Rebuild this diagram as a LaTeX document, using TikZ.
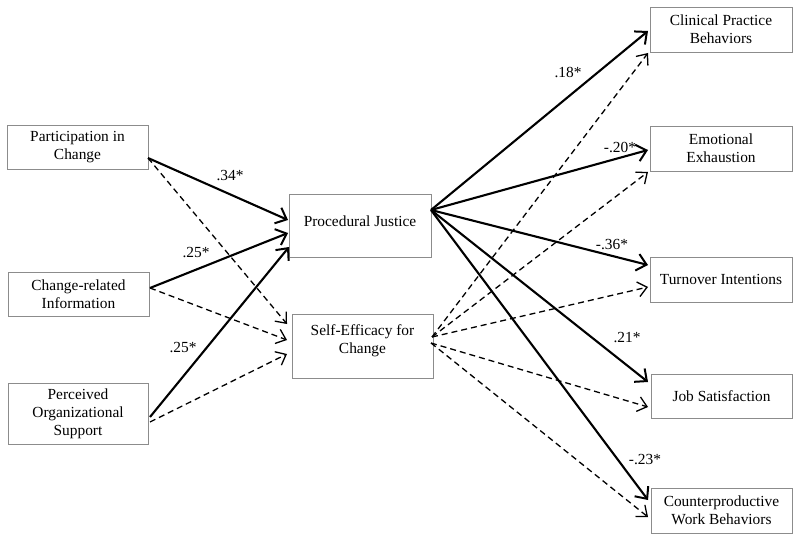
\documentclass[tikz,border=0pt]{standalone}
\usepackage{fontspec}
\setmainfont{Liberation Serif}
\usetikzlibrary{arrows.meta}
\begin{document}
\begin{tikzpicture}[x=1pt,y=-1pt,
  box/.style={draw=black!45,line width=0.9pt,minimum width=141pt,inner sep=0pt,fill=white},
  txt/.style={font=\fontsize{15.4}{18}\selectfont,align=center,inner sep=0pt},
  lab/.style={font=\fontsize{15.4}{18}\selectfont,inner sep=0pt},
  sig/.style={line width=2.1pt,-{Straight Barb[length=9.5pt,width=17pt,line width=2pt]}},
  ns/.style={line width=1.3pt,dash pattern=on 6pt off 4pt,-{Straight Barb[length=9pt,width=15pt,line width=1.3pt]}}]
\useasboundingbox (0,0) rectangle (800,540);
\fill[white] (0,0) rectangle (800,540);
% left boxes
\node[box,minimum height=44pt] (pc) at (77.5,147) {};
\node[txt] (pct) at (77.5,147) {Participation in\\Change};
\node[box,minimum height=44pt] (cri) at (78.5,294) {};
\node[txt] (crit) at (78.5,294) {Change-related\\Information};
\node[box,minimum height=61pt,minimum width=140pt] (pos) at (78,413.5) {};
\node[txt] (post) at (78,414) {Perceived\\Organizational\\Support};
% middle
\node[box,minimum height=63pt,minimum width=142pt] (pj) at (360,225.5) {};
\node[txt] (pjt) at (360,221) {Procedural Justice};
\node[box,minimum height=64pt] (se) at (362.5,346) {};
\node[txt] (set) at (362.5,341) {Self-Efficacy for\\Change};
% right
\node[box,minimum height=45pt,minimum width=142pt] (cpb) at (721,29.5) {};
\node[txt] (cpbt) at (721,29.5) {Clinical Practice\\Behaviors};
\node[box,minimum height=45pt,minimum width=142pt] (ee) at (721,148.5) {};
\node[txt] (eet) at (721,148.5) {Emotional\\Exhaustion};
\node[box,minimum height=45pt,minimum width=142pt] (ti) at (721,279.5) {};
\node[txt] (tit) at (721,279.5) {Turnover Intentions};
\node[box,minimum height=44pt] (js) at (721.5,396) {};
\node[txt] (jst) at (721.5,396) {Job Satisfaction};
\node[box,minimum height=45pt] (cwb) at (721.5,510.5) {};
\node[txt] (cwbt) at (721.5,510.5) {Counterproductive\\Work Behaviors};
% connection points
\coordinate (pcO) at (148,158);
\coordinate (criO) at (150,288);
\coordinate (posO) at (150,417);
\coordinate (posD) at (150,422);
\coordinate (pjI1) at (288,220);
\coordinate (pjI2) at (288,233);
\coordinate (pjI3) at (289,247);
\coordinate (seI1) at (287,324);
\coordinate (seI2) at (287,340);
\coordinate (seI3) at (287,354);
\coordinate (pjO) at (431,210);
\coordinate (seU) at (432,337);
\coordinate (seD) at (431,343);
\coordinate (cpbA) at (648,31);
\coordinate (cpbB) at (648,53);
\coordinate (eeA) at (648,150);
\coordinate (eeB) at (648,172);
\coordinate (tiA) at (648,265);
\coordinate (tiB) at (648,287);
\coordinate (jsA) at (648,382);
\coordinate (jsB) at (648,407);
\coordinate (cwbA) at (648,500);
\coordinate (cwbB) at (648,517);
% left arrows
\draw[ns] (pcO) -- (seI1);
\draw[ns] (criO) -- (seI2);
\draw[ns] (posD) -- (seI3);
\draw[sig] (pcO) -- (pjI1);
\draw[sig] (criO) -- (pjI2);
\draw[sig] (posO) -- (pjI3);
% right arrows
\draw[ns] (seU) -- (cpbB);
\draw[ns] (seU) -- (eeB);
\draw[ns] (seU) -- (tiB);
\draw[ns] (seD) -- (jsB);
\draw[ns] (seD) -- (cwbB);
\draw[sig] (pjO) -- (cpbA);
\draw[sig] (pjO) -- (eeA);
\draw[sig] (pjO) -- (tiA);
\draw[sig] (pjO) -- (jsA);
\draw[sig] (pjO) -- (cwbA);
% labels
\node[lab] (l1) at (230,176) {.34*};
\node[lab] (l2) at (196,253) {.25*};
\node[lab] (l3) at (183,348) {.25*};
\node[lab] (l4) at (568,72) {.18*};
\node[lab] (l5) at (620,147) {-.20*};
\node[lab] (l6) at (612,245) {-.36*};
\node[lab] (l7) at (627,338) {.21*};
\node[lab] (l8) at (645,460) {-.23*};
\end{tikzpicture}
\end{document}
